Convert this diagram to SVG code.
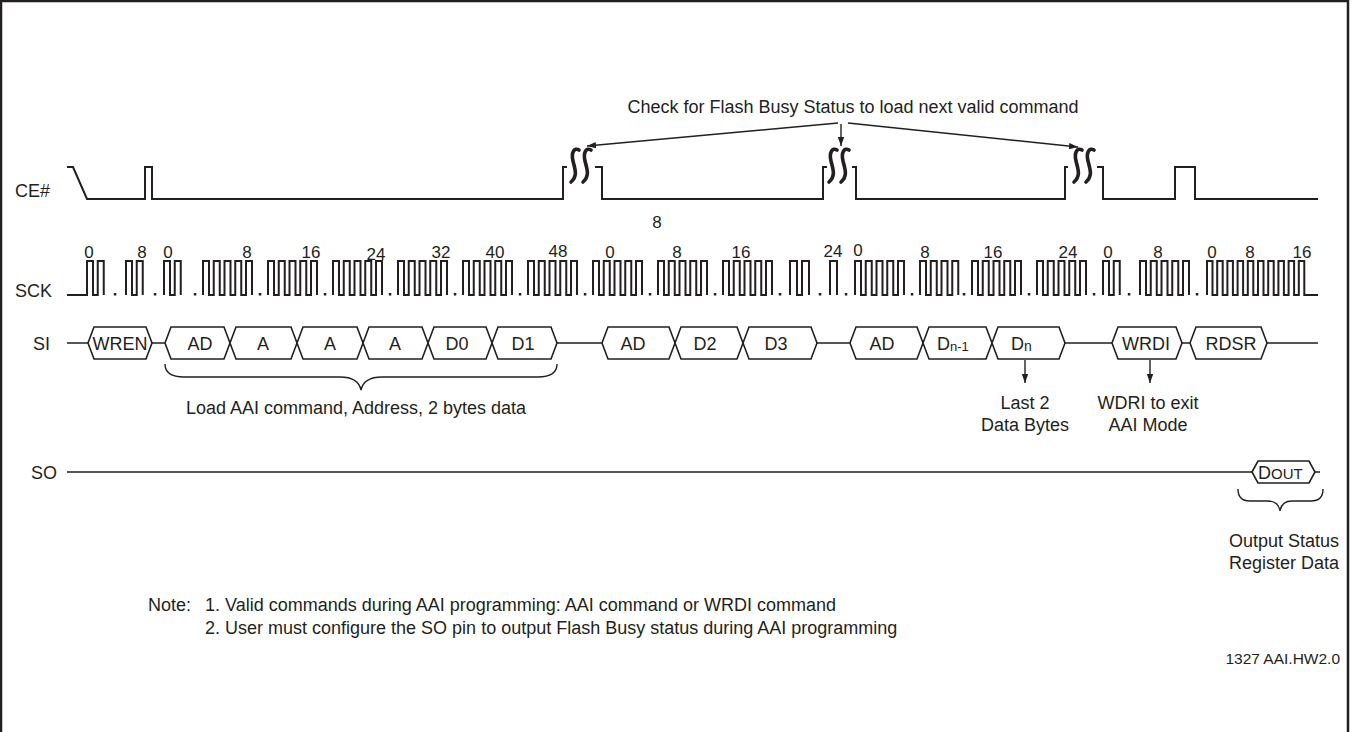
<svg xmlns="http://www.w3.org/2000/svg" width="1356" height="732" viewBox="0 0 1356 732">
<defs>
<style>
text{font-family:"Liberation Sans",Arial,Helvetica,sans-serif;fill:#231f20}
.t18{font-size:18px}
.dig{font-size:17px;text-anchor:middle}
.mid{text-anchor:middle}
.w{fill:none;stroke:#231f20;stroke-width:2}
.brk{fill:none;stroke:#231f20;stroke-width:3.6;stroke-linecap:round}
.hex{fill:#fff;stroke:#231f20;stroke-width:1.6;stroke-linejoin:miter}
.ln{fill:none;stroke:#231f20;stroke-width:1.4}
.dot{fill:#231f20}
</style>
<marker id="ah" viewBox="0 0 10 7" refX="10" refY="3.5" markerWidth="9" markerHeight="6.3" markerUnits="userSpaceOnUse" orient="auto">
<path d="M0,0 L10,3.5 L0,7 z" fill="#231f20"/>
</marker>
</defs>
<rect width="1356" height="732" fill="#fff"/>
<path d="M1,740 V1 H1348 V740" fill="none" stroke="#231f20" stroke-width="2.5"/>

<g id="labels">
<text class="t18" x="15" y="197">CE#</text>
<text class="t18" x="15" y="297">SCK</text>
<text class="t18" x="33" y="350">SI</text>
<text class="t18" x="31" y="479">SO</text>
</g>

<g id="ce">
<path class="w" d="M67,167 H73 L87,199 H145 V167 H152 V199 H563 V167 H567 M595,167 H602 V199 H823 V167 H827 M852,167 H856 V199 H1065 V167 H1068 M1097,167 H1103 V199 H1175 V167 H1195 V199 H1318"/>
<g id="break1">
<path class="brk" d="M579,150 C574,147 571,153 573,161 C575,169 578,176 571,182"/>
<path class="brk" d="M591,150 C586,147 583,153 585,161 C587,169 590,176 583,182"/>
</g>
<g id="break2">
<path class="brk" d="M837,150 C832,147 829,153 831,161 C833,169 836,176 829,182"/>
<path class="brk" d="M849,150 C844,147 841,153 843,161 C845,169 848,176 841,182"/>
</g>
<g id="break3">
<path class="brk" d="M1082,150 C1077,147 1074,153 1076,161 C1078,169 1081,176 1074,182"/>
<path class="brk" d="M1094,150 C1089,147 1086,153 1088,161 C1090,169 1093,176 1086,182"/>
</g>
<text class="dig" x="657" y="228">8</text>
</g>

<g id="sck">
<path class="w" d="M67,295 H87 V261 H93 V295 H97.75 V261 H103.75 V295
M126,295 V261 H132 V295 H136.75 V261 H142.75 V295
M164,295 V261 H170 V295 H174.75 V261 H180.75 V295
M203,295 V261 H209 V295 H213.75 V261 H219.75 V295 H224.5 V261 H230.5 V295 H235.25 V261 H241.25 V295 H246 V261 H252 V295
M268,295 V261 H274 V295 H278.75 V261 H284.75 V295 H289.5 V261 H295.5 V295 H300.25 V261 H306.25 V295 H311 V261 H317 V295
M333,295 V261 H339 V295 H343.75 V261 H349.75 V295 H354.5 V261 H360.5 V295 H365.25 V261 H371.25 V295 H376 V261 H382 V295
M398,295 V261 H404 V295 H408.75 V261 H414.75 V295 H419.5 V261 H425.5 V295 H430.25 V261 H436.25 V295 H441 V261 H447 V295
M463,295 V261 H469 V295 H473.75 V261 H479.75 V295 H484.5 V261 H490.5 V295 H495.25 V261 H501.25 V295 H506 V261 H512 V295
M528,295 V261 H534 V295 H538.75 V261 H544.75 V295 H549.5 V261 H555.5 V295 H560.25 V261 H566.25 V295 H571 V261 H577 V295
M593,295 V261 H599 V295 H603.75 V261 H609.75 V295 H614.5 V261 H620.5 V295 H625.25 V261 H631.25 V295 H636 V261 H642 V295
M658,295 V261 H664 V295 H668.75 V261 H674.75 V295 H679.5 V261 H685.5 V295 H690.25 V261 H696.25 V295 H701 V261 H707 V295
M723,295 V261 H729 V295 H733.75 V261 H739.75 V295 H744.5 V261 H750.5 V295 H755.25 V261 H761.25 V295 H766 V261 H772 V295
M790,295 V261 H797 V295 H802 V261 H809 V295
M830,295 V261 H837 V295
M855,295 V261 H861 V295 H865.75 V261 H871.75 V295 H876.5 V261 H882.5 V295 H887.25 V261 H893.25 V295 H898 V261 H904 V295
M920,295 V261 H926 V295 H930.75 V261 H936.75 V295 H941.5 V261 H947.5 V295 H952.25 V261 H958.25 V295
M972,295 V261 H978 V295 H982.75 V261 H988.75 V295 H993.5 V261 H999.5 V295 H1004.25 V261 H1010.25 V295 H1015 V261 H1021 V295
M1037,295 V261 H1043 V295 H1047.75 V261 H1053.75 V295 H1058.5 V261 H1064.5 V295 H1069.25 V261 H1075.25 V295 H1080 V261 H1086 V295
M1103,295 V261 H1109 V295 H1113.75 V261 H1119.75 V295
M1140,295 V261 H1146 V295 H1150.75 V261 H1156.75 V295 H1161.5 V261 H1167.5 V295 H1172.25 V261 H1178.25 V295 H1183 V261 H1189 V295
M1207,295 V261 H1212.5 V295 H1217.2 V261 H1222.7 V295 H1227.4 V261 H1232.9 V295 H1237.6 V261 H1243.1 V295 H1247.8 V261 H1253.3 V295 H1258 V261 H1263.5 V295 H1268.2 V261 H1273.7 V295 H1278.4 V261 H1283.9 V295 H1288.6 V261 H1294.1 V295 H1298.8 V261 H1304.3 V295 H1318"/>
<g class="dot">
<rect x="113.8" y="293" width="2.5" height="2.5"/>
<rect x="153.8" y="293" width="2.5" height="2.5"/>
<rect x="193.8" y="293" width="2.5" height="2.5"/>
<rect x="258.8" y="293" width="2.5" height="2.5"/>
<rect x="323.8" y="293" width="2.5" height="2.5"/>
<rect x="388.8" y="293" width="2.5" height="2.5"/>
<rect x="453.8" y="293" width="2.5" height="2.5"/>
<rect x="518.8" y="293" width="2.5" height="2.5"/>
<rect x="583.8" y="293" width="2.5" height="2.5"/>
<rect x="648.8" y="293" width="2.5" height="2.5"/>
<rect x="713.8" y="293" width="2.5" height="2.5"/>
<rect x="778.8" y="293" width="2.5" height="2.5"/>
<rect x="818.8" y="293" width="2.5" height="2.5"/>
<rect x="844.8" y="293" width="2.5" height="2.5"/>
<rect x="910.8" y="293" width="2.5" height="2.5"/>
<rect x="962.8" y="293" width="2.5" height="2.5"/>
<rect x="1027.8" y="293" width="2.5" height="2.5"/>
<rect x="1092.8" y="293" width="2.5" height="2.5"/>
<rect x="1127.8" y="293" width="2.5" height="2.5"/>
<rect x="1195.8" y="293" width="2.5" height="2.5"/>
</g>
<g id="sck-counts">
<text class="dig" x="89" y="258">0</text>
<text class="dig" x="142" y="258">8</text>
<text class="dig" x="168" y="258">0</text>
<text class="dig" x="247" y="258">8</text>
<text class="dig" x="311" y="258">16</text>
<text class="dig" x="376" y="260">24</text>
<text class="dig" x="441" y="258">32</text>
<text class="dig" x="495" y="258">40</text>
<text class="dig" x="558" y="257">48</text>
<text class="dig" x="610" y="258">0</text>
<text class="dig" x="677" y="258">8</text>
<text class="dig" x="741" y="258">16</text>
<text class="dig" x="833" y="257">24</text>
<text class="dig" x="858" y="256">0</text>
<text class="dig" x="925" y="258">8</text>
<text class="dig" x="993" y="258">16</text>
<text class="dig" x="1068" y="258">24</text>
<text class="dig" x="1108" y="258">0</text>
<text class="dig" x="1158" y="258">8</text>
<text class="dig" x="1212" y="258">0</text>
<text class="dig" x="1250" y="258">8</text>
<text class="dig" x="1302" y="258">16</text>
</g>
</g>

<g id="si">
<path class="ln" d="M67,343 H88 M152,343 H165 M557,343 H602 M817,343 H850 M1065,343 H1112 M1182,343 H1190 M1267,343 H1318"/>
<g id="wren"><polygon class="hex" points="88,343 94,327 146,327 152,343 146,359 94,359"/><text class="t18 mid" x="120" y="350">WREN</text></g>
<g id="ad1"><polygon class="hex" points="165,343 171,327 224,327 230,343 224,359 171,359"/><text class="t18 mid" x="200" y="350">AD</text></g>
<g id="a1"><polygon class="hex" points="230,343 236,327 291,327 297,343 291,359 236,359"/><text class="t18 mid" x="263" y="350">A</text></g>
<g id="a2"><polygon class="hex" points="297,343 303,327 357,327 363,343 357,359 303,359"/><text class="t18 mid" x="330" y="350">A</text></g>
<g id="a3"><polygon class="hex" points="363,343 369,327 422,327 428,343 422,359 369,359"/><text class="t18 mid" x="395" y="350">A</text></g>
<g id="d0"><polygon class="hex" points="428,343 434,327 486,327 492,343 486,359 434,359"/><text class="t18 mid" x="457" y="350">D0</text></g>
<g id="d1"><polygon class="hex" points="492,343 498,327 551,327 557,343 551,359 498,359"/><text class="t18 mid" x="523" y="350">D1</text></g>
<g id="ad2"><polygon class="hex" points="602,343 608,327 669,327 675,343 669,359 608,359"/><text class="t18 mid" x="633" y="350">AD</text></g>
<g id="d2"><polygon class="hex" points="675,343 681,327 737,327 743,343 737,359 681,359"/><text class="t18 mid" x="705" y="350">D2</text></g>
<g id="d3"><polygon class="hex" points="743,343 749,327 811,327 817,343 811,359 749,359"/><text class="t18 mid" x="776" y="350">D3</text></g>
<g id="ad3"><polygon class="hex" points="850,343 856,327 917,327 923,343 917,359 856,359"/><text class="t18 mid" x="882" y="350">AD</text></g>
<g id="dn1"><polygon class="hex" points="923,343 929,327 986,327 992,343 986,359 929,359"/><text class="t18" x="937" y="350">D<tspan font-size="13" dy="1">n-1</tspan></text></g>
<g id="dn"><polygon class="hex" points="992,343 998,327 1059,327 1065,343 1059,359 998,359"/><text class="t18" x="1011" y="350">D<tspan font-size="14" dy="1">n</tspan></text></g>
<g id="wrdi"><polygon class="hex" points="1112,343 1118,327 1176,327 1182,343 1176,359 1118,359"/><text class="t18 mid" x="1146" y="350">WRDI</text></g>
<g id="rdsr"><polygon class="hex" points="1190,343 1196,327 1261,327 1267,343 1261,359 1196,359"/><text class="t18 mid" x="1231" y="350">RDSR</text></g>
</g>

<g id="so">
<path class="ln" d="M67,472 H1252 M1315,472 H1320"/>
<g id="dout"><polygon class="hex" points="1252,472 1258,461 1309,461 1315,472 1309,483 1258,483"/><text x="1258" y="479" font-size="18">D<tspan font-size="15">OUT</tspan></text></g>
</g>

<g id="connectors">
<line class="ln" x1="838" y1="123" x2="587" y2="146" marker-end="url(#ah)"/>
<line class="ln" x1="841" y1="124" x2="841" y2="146" marker-end="url(#ah)"/>
<line class="ln" x1="848" y1="123" x2="1078" y2="147" marker-end="url(#ah)"/>
<line class="ln" x1="1025" y1="360" x2="1025" y2="383" marker-end="url(#ah)"/>
<line class="ln" x1="1150" y1="360" x2="1150" y2="383" marker-end="url(#ah)"/>
<path class="ln" d="M165,364 C165,373 171,377 184,377 L340,377 C352,377 359,381 361,390 C363,381 370,377 382,377 L538,377 C551,377 557,373 557,364"/>
<path class="ln" d="M1238,489 C1238,497 1242,501 1250,501 L1268,501 C1275,501 1279,505 1280,511 C1281,505 1285,501 1292,501 L1311,501 C1319,501 1323,497 1323,489"/>
</g>

<g id="annotations">
<text class="t18 mid" x="853" y="113">Check for Flash Busy Status to load next valid command</text>
<text class="t18 mid" x="356" y="414">Load AAI command, Address, 2 bytes data</text>
<text class="t18 mid" x="1025" y="409">Last 2</text>
<text class="t18 mid" x="1025" y="431">Data Bytes</text>
<text class="t18 mid" x="1148" y="409">WDRI to exit</text>
<text class="t18 mid" x="1148" y="431">AAI Mode</text>
<text class="t18 mid" x="1284" y="547">Output Status</text>
<text class="t18 mid" x="1284" y="569">Register Data</text>
<text class="t18" x="148" y="611">Note:</text>
<text class="t18" x="205" y="611">1. Valid commands during AAI programming: AAI command or WRDI command</text>
<text class="t18" x="205" y="634">2. User must configure the SO pin to output Flash Busy status during AAI programming</text>
<text font-size="15.5" x="1340" y="664" text-anchor="end">1327 AAI.HW2.0</text>
</g>
</svg>
